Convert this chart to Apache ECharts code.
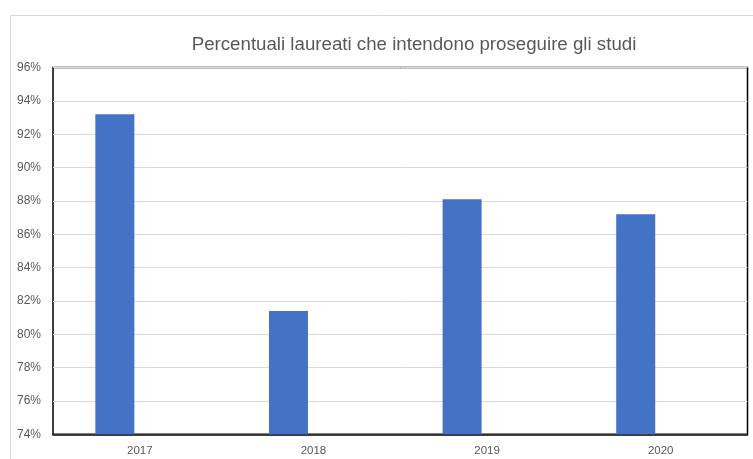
<!DOCTYPE html>
<html>
<head>
<meta charset="utf-8">
<script src="https://cdn.jsdelivr.net/npm/echarts@6/dist/echarts.min.js"></script>
<style>
html,body{margin:0;padding:0;background:#fff;}
#chart{width:753px;height:459px;}
</style>
</head>
<body>
<div id="chart"></div>
<script>
const titleText = 'Percentuali laureati che intendono proseguire gli studi';
const categories = ['2017', '2018', '2019', '2020'];
const values = [93.2, 81.4, 88.1, 87.2];
const emptySeries = [null, null, null, null];
const yMin = 74, yMax = 96, yStep = 2;

const chart = echarts.init(document.getElementById('chart'));
chart.setOption({
  animation: false,
  backgroundColor: '#fff',
  textStyle: { fontFamily: 'Liberation Sans' },
  graphic: [{
    type: 'rect',
    left: 8, top: 13,
    shape: { width: 800, height: 500 },
    style: { fill: 'none', stroke: '#d9d9d9', lineWidth: 1 },
    silent: true
  }],
  title: {
    text: titleText,
    left: 409, top: 30,
    textAlign: 'center',
    textStyle: { fontFamily: 'Liberation Sans', fontSize: 18.7, fontWeight: 'normal', color: '#595959' }
  },
  grid: {
    left: 53, top: 67.5, right: 5.5, bottom: 24.7,
    show: true, borderColor: '#000', borderWidth: 1.5, backgroundColor: 'transparent'
  },
  xAxis: {
    type: 'category',
    data: categories,
    axisLine: { show: true, lineStyle: { color: '#000', width: 1.5 } },
    axisTick: { show: false },
    axisLabel: { color: '#595959', fontSize: 11.5, margin: 11, fontFamily: 'Liberation Sans' }
  },
  yAxis: {
    type: 'value',
    min: yMin, max: yMax, interval: yStep,
    axisLine: { show: false },
    axisTick: { show: false },
    splitLine: { show: true, lineStyle: { color: '#d9d9d9', width: 1 } },
    axisLabel: { color: '#595959', fontSize: 12, margin: 12, formatter: '{value}%', fontFamily: 'Liberation Sans' }
  },
  series: [
    {
      type: 'bar',
      data: values,
      barWidth: 39,
      barGap: '28%',
      itemStyle: { color: '#4472C4' }
    },
    {
      type: 'bar',
      data: emptySeries,
      barWidth: 39,
      itemStyle: { color: '#ED7D31' }
    }
  ]
});
</script>
</body>
</html>
